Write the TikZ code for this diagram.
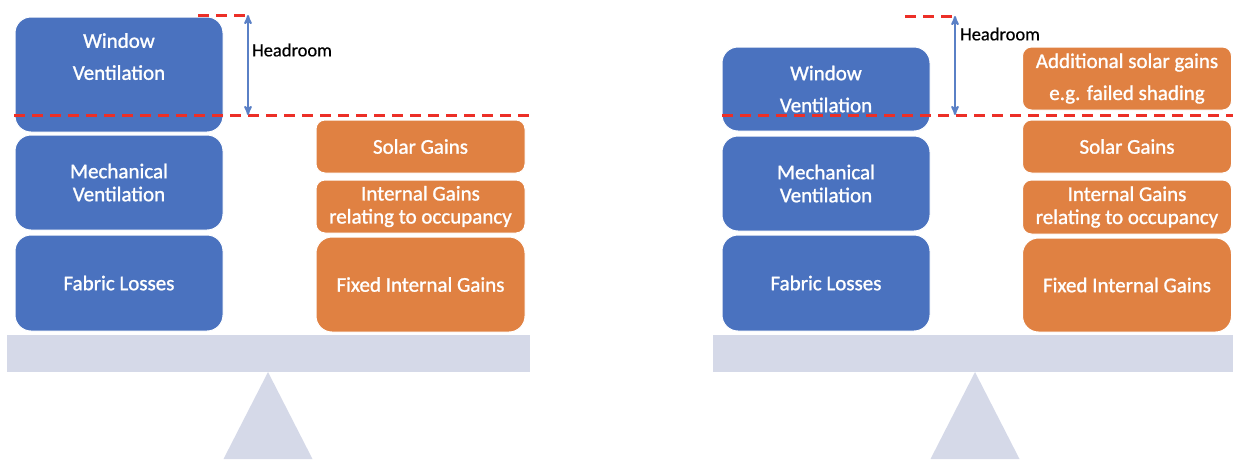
\documentclass[tikz,border=0pt]{standalone}
\usepackage{fontspec}
\setmainfont{Carlito}
\newfontfamily\boxfont{Carlito}[BoldFont=Carlito, BoldFeatures={FakeBold=1.2}]
\newfontfamily\labelfont{Carlito}[BoldFont=Carlito, BoldFeatures={FakeBold=0.5}]
\usepackage{tikz}
\usetikzlibrary{arrows}
\definecolor{lossblue}{HTML}{4A72BF}
\definecolor{gainorange}{HTML}{E08142}
\definecolor{beamgray}{HTML}{D5D9E8}
\definecolor{limitred}{HTML}{EC2F27}
\definecolor{arrowblue}{HTML}{5A80C6}
\tikzset{
  lossbox/.style={draw=white, line width=1pt, fill=lossblue, text=white, rounded corners=16pt,
    minimum width=208, align=center, inner sep=0pt, font=\boxfont\bfseries\fontsize{21}{23}\selectfont},
  gainbox/.style={lossbox, fill=gainorange, minimum width=209},
  smallbox/.style={rounded corners=9pt},
  beambar/.style={fill=beamgray, minimum height=37, inner sep=0pt},
  limitline/.style={limitred, line width=3pt, dash pattern=on 11pt off 7pt},
  headarrow/.style={arrowblue, line width=2pt, <->, >=stealth'},
  headlabel/.style={anchor=west, inner sep=0pt, font=\labelfont\bfseries\fontsize{18.5}{21}\selectfont}
}
\begin{document}
\begin{tikzpicture}[x=1pt,y=-1pt]
\useasboundingbox (0,0) rectangle (1233,459);

\foreach \n/\c/\w/\a in {L/268.5/523/268, R/973/520/975} {
  \node[beambar, minimum width=\w] (beam\n) at (\c,353.5) {};
  \fill[beamgray] (\a,372) -- ({\a-44.5},459) -- ({\a+44.5},459) -- cycle;
}

% left balance
\node[lossbox, minimum height=115] (winL) at (119,74.5) {Window\\[9pt]Ventilation\\[13pt]\mbox{}};
\node[lossbox, minimum height=95] (mechL) at (119,182.5) {Mechanical\\Ventilation};
\node[lossbox, minimum height=96] (fabL) at (119,283) {Fabric Losses};
\node[gainbox, smallbox, minimum height=53] (solL) at (420.5,146.5) {Solar Gains};
\node[gainbox, smallbox, minimum height=53] (intL) at (420.5,206.5) {Internal Gains\\relating to occupancy};
\node[gainbox, minimum height=95] (fixL) at (420.5,284.5) {Fixed Internal Gains};

\coordinate (capL) at (198,15);
\coordinate (topL) at (248,15);
\coordinate (botL) at (248,115);
\coordinate (limL0) at (14,115);
\coordinate (limL1) at (530,115);
\draw[limitline] (capL) -- (topL);
\draw[limitline] (limL0) -- (limL1);
\draw[headarrow] (topL) -- (botL);
\node[headlabel] (hdL) at (252,50) {Headroom};

% right balance
\node[lossbox, minimum height=84] (winR) at (826,89) {Window\\[9pt]Ventilation};
\node[lossbox, minimum height=95] (mechR) at (826,183.5) {Mechanical\\Ventilation};
\node[lossbox, minimum height=96] (fabR) at (826,283) {Fabric Losses};
\node[gainbox, smallbox, minimum height=63] (addR) at (1127,78.5) {Additional solar gains\\[9pt]e.g. failed shading};
\node[gainbox, smallbox, minimum height=53] (solR) at (1127,146.5) {Solar Gains};
\node[gainbox, smallbox, minimum height=54] (intR) at (1127,207) {Internal Gains\\relating to occupancy};
\node[gainbox, minimum height=94] (fixR) at (1127,285) {Fixed Internal Gains};

\coordinate (capR) at (905,16);
\coordinate (topR) at (955,16);
\coordinate (botR) at (955,115);
\coordinate (limR0) at (722,115);
\coordinate (limR1) at (1233,115);
\draw[limitline] (capR) -- (topR);
\draw[limitline] (limR0) -- (limR1);
\draw[headarrow] (topR) -- (botR);
\node[headlabel] (hdR) at (960,34) {Headroom};
\end{tikzpicture}
\end{document}
